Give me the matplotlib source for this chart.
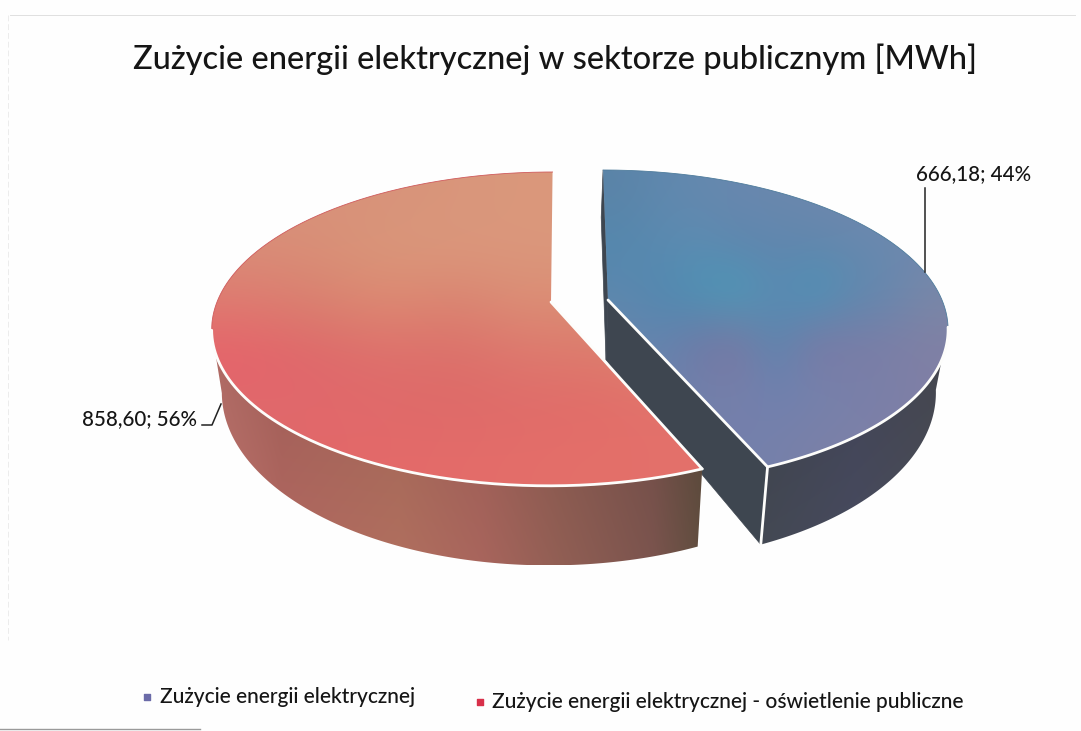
import numpy as np
import matplotlib
matplotlib.use("Agg")
import matplotlib.pyplot as plt
from matplotlib.colors import to_rgb, LinearSegmentedColormap
from matplotlib.patches import Polygon

title = "Zużycie energii elektrycznej w sektorze publicznym [MWh]"
categories = ["Zużycie energii elektrycznej",
              "Zużycie energii elektrycznej - oświetlenie publiczne"]
values = [666.18, 858.60]
percents = [44, 56]
data_labels = [f"{v:.2f}".replace(".", ",") + f"; {p}%" for v, p in zip(values, percents)]

plt.rcParams["font.family"] = ["Lato", "DejaVu Sans"]
fig = plt.figure(figsize=(10.81, 7.31), dpi=100, facecolor="#fefefe")
ax = fig.add_axes([0, 0, 1, 1])
ax.axis("off")

# projected 3-D pie
P, K, R, DEPTH = 0.1715, 152.3, 334.0, 60.0
BOTTOM_SCALE = 0.97
fractions = np.array(values) / sum(values)
split = 2 * np.pi * fractions[0]
front_limit = np.arccos(-P)


def top_pts(theta, rad, apex, shear):
    u, v = rad * np.sin(theta), rad * np.cos(theta)
    w = 1 + P * v
    y = apex[1] - K * v / w
    x = apex[0] + R * u / w + shear * (y - apex[1])
    return x, y


def bottom_pts(theta, rad, apex, shear, shift):
    x, y = top_pts(theta, rad, apex, shear)
    w = 1 + P * rad * np.cos(theta)
    return apex[0] + (x - apex[0]) * BOTTOM_SCALE + shift, y + DEPTH / w ** 1.5


def hexgrid(rows):
    return np.array([[to_rgb("#" + c) for c in r.split()] for r in rows])


red_grid = hexgrid([
    "d8917a d8917a d8937a d9967b da987c dc987c dc9a7e",
    "d98c78 d98f77 d9977a db977c da977c dc987c dc9a7e",
    "df7a70 d8806f de8a72 d98270 dc8f76 da8a72 dc9478",
    "e6626a de686a de706c dc6f6a de786e dc7a6c de826f",
    "e06a6c e2686c e06a6a de6a68 e06c6a e26c68 e2726c",
    "dc6a6a e26868 e46a6a e46c6a e46e6a e4706a e4706a",
])
blue_grid = hexgrid([
    "5b84a8 5f88ae 6488ae 6888ae 6a88ae 6c88ae 7088ae 7088ae 7088ae",
    "5488ae 5a8ab0 5c8cb2 5e86ae 6086ae 6286ac 6688ae 6a88ae 7088ae",
    "5c88ae 5288b0 4c92b4 4a9ab8 5a8ab2 4a94b8 5c8ab0 6888ae 7888a8",
    "6884ac 6484ae 7078a6 7a76a2 5c86ae 7a78a4 7a7ca6 7c7ea6 8080a4",
    "6a84ae 6e82ac 7080aa 7680aa 7080b0 7482ac 7880aa 7a80a8 8080a6",
    "7280ac 7280ac 7480ac 7480ac 7680aa 7a80a8 7c80a8 8080a6 8080a6",
])
red_wall = LinearSegmentedColormap.from_list("rw", [
    (0.0, "#b8706a"), (0.14, "#a9635c"), (0.38, "#a86a5a"), (0.55, "#a06058"),
    (0.71, "#8a5a50"), (0.90, "#75504a"), (1.0, "#5c4a3c")])
blue_wall = LinearSegmentedColormap.from_list("bw", ["#40454f", "#44475a", "#484a52"])


def draw_slice(t0, t1, wall_t0, wall_t1, apex, shear, shift, grid, wall_cmap, chord_col, rim, chord_wall):
    th = np.linspace(t0, t1, 300)
    tx, ty = top_pts(th, 1.0, apex, shear)
    bx, by = bottom_pts(th, 1.0, apex, shear, shift)
    # flat inner walls
    if chord_wall:
        for t in (t0, t1):
            rr = np.array([0.0, 1.0])
            xa, ya = top_pts(t, rr, apex, shear)
            xb, yb = bottom_pts(t, rr, apex, shear, shift)
            ax.add_patch(Polygon(np.c_[np.r_[xa, xb[::-1]], np.r_[ya, yb[::-1]]],
                                 fc=chord_col, ec=chord_col, lw=0.5, zorder=2))
    # outer wall: horizontal gradient clipped to the visible band
    m = (th >= wall_t0) & (th <= wall_t1)
    wx, wy = np.r_[tx[m], bx[m][::-1]], np.r_[ty[m], by[m][::-1]]
    band = Polygon(np.c_[wx, wy], closed=True, fc="none", ec="none", zorder=3)
    ax.add_patch(band)
    xs = np.linspace(0, 1, 256)
    shade = np.array(wall_cmap(xs))[:, :3]
    vert = np.linspace(0.94, 1.05, 32)[:, None, None]
    img = np.clip(shade[None, :, :] * vert, 0, 1)
    im = ax.imshow(img, extent=(wx.min(), wx.max(), wy.max(), wy.min()),
                   interpolation="bilinear", aspect="auto", zorder=3)
    im.set_clip_path(band)
    # top face
    px, py = np.r_[apex[0], tx], np.r_[apex[1], ty]
    face = Polygon(np.c_[px, py], closed=True, fc="none", ec="none", zorder=4)
    ax.add_patch(face)
    top = ax.imshow(grid, extent=(px.min(), px.max(), py.max(), py.min()),
                    interpolation="bicubic", aspect="auto", zorder=4)
    top.set_clip_path(face)
    ax.plot(tx, ty, color=rim, lw=0.6, zorder=5)
    return th, tx, ty, bx, by


apex_b, apex_r = (608.0, 300.0), (551.0, 302.0)
th_b, txb, tyb, bxb, byb = draw_slice(0, split, front_limit, split, apex_b, 0.038, -2.0,
                                      blue_grid, blue_wall, "#3e4650", "#4f7c9c", True)
# red is closer to the viewer at the tip, so it comes after blue
th_r, txr, tyr, bxr, byr = draw_slice(split, 2 * np.pi, split, 2 * np.pi - front_limit,
                                      apex_r, -0.012, 0.0, red_grid, red_wall,
                                      "#5c4a3c", "#cf5a5c", False)
W = dict(color="#fdfdfb", solid_capstyle="round", zorder=6)
# white front edges
m = th_b >= front_limit
ax.plot(txb[m], tyb[m], lw=2.0, **W)
ax.plot([apex_b[0], txb[-1]], [apex_b[1], tyb[-1]], lw=2.0, **W)
ax.plot([txb[-1], bxb[-1]], [tyb[-1], byb[-1]], lw=2.0, **W)
m = th_r <= 2 * np.pi - front_limit
ax.plot(txr[m], tyr[m], lw=2.0, **W)
ax.plot([apex_r[0], txr[0]], [apex_r[1], tyr[0]], lw=2.0, **W)

# title and labels
TXT = "#151515"
ax.text(555, 59, title, fontsize=23.5, color=TXT, ha="center", va="center", fontweight=500)
ax.text(973.5, 174, data_labels[0], fontsize=14.8, color=TXT, ha="center", va="center", fontweight=500)
ax.text(139.5, 419, data_labels[1], fontsize=14.8, color=TXT, ha="center", va="center", fontweight=500)
ax.plot([925, 925], [188, 272], color="#222222", lw=1.1, zorder=7)
ax.plot([202, 212, 221], [425, 425, 404], color="#222222", lw=1.1, zorder=7)

# legend
ax.scatter([147], [697], marker="s", s=22, color="#6b6ba8", zorder=7)
ax.scatter([480], [702], marker="s", s=22, color="#d8304a", zorder=7)
ax.text(160, 697, categories[0], fontsize=15.0, color=TXT, ha="left", va="center", fontweight=500)
ax.text(492, 702, categories[1], fontsize=15.0, color=TXT, ha="left", va="center", fontweight=500)

# scanned page edges
ax.plot([10, 1075], [15, 15], color="#e0e0e0", lw=0.7)
ax.plot([8, 8], [15, 640], color="#ececec", lw=0.7, ls=(0, (6, 3)))
ax.plot([0, 200], [729, 729], color="#9a9a9a", lw=1.0)

ax.set_xlim(0, 1081)
ax.set_ylim(731, 0)
fig.savefig("out.png", dpi=100, facecolor=fig.get_facecolor())
